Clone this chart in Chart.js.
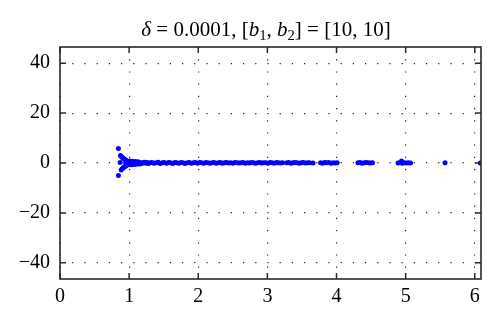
<!DOCTYPE html>
<html>
<head>
<meta charset="utf-8">
<script src="https://cdn.jsdelivr.net/npm/chart.js@4/dist/chart.umd.min.js"></script>
<style>
  html, body { margin: 0; padding: 0; background: #fff; }
  #wrap { width: 500px; height: 326px; }
</style>
</head>
<body>
<div id="wrap"><canvas id="myChart"></canvas></div>
<script>
// 坐标轴刻度
var xTicks = [0, 1, 2, 3, 4, 5, 6];
var yTicks = [-40, -20, 0, 20, 40];

// 左端的分叉部分
var forkX = [0.845, 0.87, 0.845,
             0.875, 0.89, 0.905, 0.92, 0.935, 0.95, 0.965, 0.98, 0.995,
             0.885, 0.90, 0.915, 0.93, 0.945, 0.96, 0.975, 0.99,
             0.95, 0.965];
var forkY = [5.8, 0.2, -5.0,
             3.0, 2.5, 2.1, 1.8, 1.5, 1.2, 0.9, 0.7, 0.5,
             -2.8, -2.3, -1.9, -1.6, -1.3, -1.0, -0.7, -0.5,
             0.1, 0.0];

// 密集的带状部分
var bandX = [0.98, 1.00, 1.02, 1.04, 1.06, 1.08, 1.10, 1.12, 1.14, 1.16, 1.18, 1.20, 1.22, 1.24, 1.26,
             1.28, 1.30, 1.33, 1.36, 1.39, 1.42, 1.45, 1.48, 1.51, 1.54, 1.57, 1.60, 1.63, 1.66, 1.69,
             1.72, 1.75, 1.78, 1.81, 1.84, 1.87, 1.90, 1.93, 1.96, 1.99, 2.02, 2.05, 2.08, 2.11, 2.14,
             2.17, 2.20, 2.23, 2.26, 2.29, 2.32, 2.35, 2.38, 2.41, 2.44, 2.47, 2.50, 2.53, 2.56, 2.59,
             2.62, 2.65, 2.68, 2.71, 2.74, 2.77, 2.80, 2.83, 2.86, 2.89, 2.92, 2.95,
             1.01, 1.05, 1.09, 1.13, 1.03, 1.07, 1.11, 1.15];
var bandY = [0.3, -0.2, 0.4, -0.3, 0.2, -0.1, 0.3, -0.2, 0.1, 0.2, -0.2, 0.1, 0.3, -0.1, 0.2,
             -0.2, 0.1, 0.2, -0.1, 0.1, 0.3, -0.2, 0.1, 0.2, -0.1, 0.2, 0.1, -0.2, 0.2, 0.1,
             -0.1, 0.2, 0.1, -0.2, 0.1, 0.2, -0.1, 0.1, 0.2, -0.1, 0.2, 0.1, -0.1, 0.2, 0.1,
             -0.1, 0.1, 0.2, -0.1, 0.1, 0.2, -0.1, 0.1, 0.2, 0.0, 0.1, -0.1, 0.2, 0.1, 0.0,
             0.1, 0.2, -0.1, 0.1, 0.0, 0.2, 0.1, -0.1, 0.1, 0.2, 0.0, 0.1,
             0.8, 0.7, 0.6, 0.5, -0.7, -0.6, -0.5, -0.4];

// 右侧稀疏的点簇
var tailX = [2.98, 3.01, 3.04, 3.07, 3.10, 3.13, 3.16, 3.19, 3.22,
             3.28, 3.31, 3.34, 3.37, 3.40, 3.43, 3.46, 3.49, 3.52, 3.55, 3.58, 3.61,
             3.66,
             3.77, 3.80, 3.83, 3.86, 3.89, 3.92, 3.95, 3.98, 4.01,
             4.31, 4.34, 4.37, 4.40, 4.43, 4.46, 4.49, 4.52,
             4.89, 4.92, 4.95, 4.98, 5.01, 5.04, 5.07, 4.94,
             5.57, 6.08];
var tailY = [0.1, -0.1, 0.2, 0.1, -0.1, 0.2, 0.1, 0.0, 0.1,
             0.1, 0.2, -0.1, 0.1, 0.2, 0.1, -0.1, 0.1, 0.2, 0.0, 0.1, 0.1,
             0.0,
             0.1, -0.1, 0.2, 0.1, 0.2, -0.1, 0.1, 0.0, 0.1,
             0.1, 0.2, -0.1, 0.1, 0.2, 0.1, 0.0, 0.1,
             0.0, 0.2, -0.1, 0.1, 0.0, 0.1, 0.0, 0.8,
             0.1, 0.0];

function toPoints(xs, ys) {
    var pts = [];
    for (var i = 0; i < xs.length; i++) pts.push({ x: xs[i], y: ys[i] });
    return pts;
}
var allPoints = toPoints(forkX, forkY).concat(toPoints(bandX, bandY), toPoints(tailX, tailY));

var canvas = document.getElementById("myChart");
var serif = "'Liberation Serif', 'DejaVu Serif', serif";

// 边框、向内的刻度线和标题
var framePlugin = {
    id: "frame",
    afterDraw: function(chart) {
        var ctx = chart.ctx, a = chart.chartArea;
        var xs = chart.scales.x, ys = chart.scales.y;
        ctx.save();
        ctx.strokeStyle = "#2a2a2a";
        ctx.lineWidth = 1.6;
        ctx.strokeRect(a.left, a.top, a.right - a.left, a.bottom - a.top);
        ctx.lineWidth = 1.5;
        ctx.beginPath();
        xTicks.forEach(function(v) {
            var px = xs.getPixelForValue(v);
            ctx.moveTo(px, a.bottom); ctx.lineTo(px, a.bottom - 6);
            ctx.moveTo(px, a.top); ctx.lineTo(px, a.top + 6);
        });
        yTicks.forEach(function(v) {
            var py = ys.getPixelForValue(v);
            ctx.moveTo(a.left, py); ctx.lineTo(a.left + 6, py);
            ctx.moveTo(a.right, py); ctx.lineTo(a.right - 6, py);
        });
        ctx.stroke();

        // 标题：δ = 0.0001, [b1, b2] = [10, 10]
        var size = 21;
        var parts = [
            { t: "δ", it: true }, { t: " = 0.0001, [" }, { t: "b", it: true }, { t: "1", sub: true },
            { t: ", " }, { t: "b", it: true }, { t: "2", sub: true }, { t: "] = [10, 10]" }
        ];
        function fontOf(p) {
            return (p.it ? "italic " : "") + (p.sub ? size * 0.7 : size) + "px " + serif;
        }
        var total = 0;
        parts.forEach(function(p) { ctx.font = fontOf(p); p.w = ctx.measureText(p.t).width; total += p.w; });
        var x = 266 - total / 2, base = 36;
        ctx.fillStyle = "#000";
        ctx.textBaseline = "alphabetic";
        parts.forEach(function(p) {
            ctx.font = fontOf(p);
            ctx.fillText(p.t, x, p.sub ? base + 4 : base);
            x += p.w;
        });
        ctx.restore();
    }
};

var myChart = new Chart(canvas, {
    type: "scatter",
    data: {
        datasets: [{
            data: allPoints,
            backgroundColor: "#0000ff",
            pointRadius: 2.5,
            pointBorderWidth: 0,
            pointHoverRadius: 2.5
        }]
    },
    plugins: [framePlugin],
    options: {
        responsive: true,
        maintainAspectRatio: false,
        animation: false,
        events: [],
        layout: { padding: { top: 47, right: 19, left: 0, bottom: 0 } },
        plugins: {
            legend: { display: false },
            tooltip: { enabled: false },
            title: { display: false }
        },
        scales: {
            x: {
                type: "linear",
                min: 0,
                max: 6.09,
                afterBuildTicks: function(s) { s.ticks = xTicks.map(function(v) { return { value: v }; }); },
                afterFit: function(s) { s.height = 47; },
                ticks: {
                    color: "#000",
                    padding: 6,
                    font: { family: serif, size: 20 },
                    maxRotation: 0
                },
                grid: { color: "#222", lineWidth: 1.2, drawTicks: false },
                border: { display: false, dash: [1.2, 11] }
            },
            y: {
                type: "linear",
                min: -46.5,
                max: 46.5,
                afterBuildTicks: function(s) { s.ticks = yTicks.map(function(v) { return { value: v }; }); },
                afterFit: function(s) { s.width = 60; },
                ticks: {
                    color: "#000",
                    padding: 10,
                    font: { family: serif, size: 20 },
                    callback: function(v) { return String(v).replace("-", "\u2212"); }
                },
                grid: { color: "#222", lineWidth: 1.2, drawTicks: false },
                border: { display: false, dash: [1.2, 11] }
            }
        }
    }
});
</script>
</body>
</html>
